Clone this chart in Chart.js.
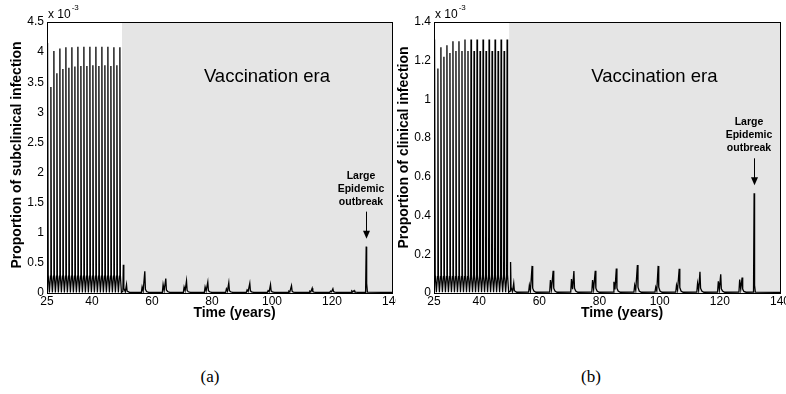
<!DOCTYPE html>
<html>
<head>
<meta charset="utf-8">
<script src="https://cdn.jsdelivr.net/npm/chart.js@4.4.1/dist/chart.umd.min.js"></script>
<style>
  html, body { margin: 0; padding: 0; background: #fff; }
  body { width: 786px; height: 394px; position: relative; overflow: hidden; }
  .panel { position: absolute; top: 0; }
  #panelA { left: 0; }
  #panelB { left: 396px; }
  .caption { position: absolute; top: 367px; line-height: 20px; font: 17px 'Liberation Serif', serif; color: #000; transform: translateX(-50%); }
</style>
</head>
<body>
<div class="panel" id="panelA"><canvas id="chartA" width="396" height="330"></canvas></div>
<div class="panel" id="panelB"><canvas id="chartB" width="390" height="330"></canvas></div>
<div class="caption" style="left:210px">(a)</div>
<div class="caption" style="left:591px">(b)</div>
<script>
// time in years; both series share this grid
const years = [
  25.0,
  25.1, 25.25, 25.4, 25.8,   26.15, 26.3, 26.45, 26.8,
  27.15, 27.3, 27.45, 27.8,   28.15, 28.3, 28.45, 28.8,
  29.15, 29.3, 29.45, 29.8,   30.15, 30.3, 30.45, 30.8,
  31.15, 31.3, 31.45, 31.8,   32.15, 32.3, 32.45, 32.8,
  33.15, 33.3, 33.45, 33.8,   34.15, 34.3, 34.45, 34.8,
  35.15, 35.3, 35.45, 35.8,   36.15, 36.3, 36.45, 36.8,
  37.15, 37.3, 37.45, 37.8,   38.15, 38.3, 38.45, 38.8,
  39.15, 39.3, 39.45, 39.8,   40.15, 40.3, 40.45, 40.8,
  41.15, 41.3, 41.45, 41.8,   42.15, 42.3, 42.45, 42.8,
  43.15, 43.3, 43.45, 43.8,   44.15, 44.3, 44.45, 44.8,
  45.15, 45.3, 45.45, 45.8,   46.15, 46.3, 46.45, 46.8,
  47.15, 47.3, 47.45, 47.8,   48.15, 48.3, 48.45, 48.8,
  49.15, 49.3, 49.45, 49.8,
  50.3, 50.45, 50.6, 51.1, 51.5, 51.7, 52.5,
  56.45, 56.7, 57.05, 57.6, 57.8, 58.2, 58.9,
  63.45, 63.7, 64.05, 64.6, 64.8, 65.2, 65.9,
  70.45, 70.7, 71.05, 71.5, 71.7, 72.1, 72.8,
  77.45, 77.7, 78.05, 78.6, 78.8, 79.2, 79.9,
  84.55, 84.8, 85.15, 85.6, 85.8, 86.2, 86.9,
  91.45, 91.7, 92.05, 92.6, 92.8, 93.2, 93.9,
  98.45, 98.7, 99.05, 99.5, 99.7, 100.1, 100.8,
  105.35, 105.6, 105.95, 106.5, 106.7, 107.1, 107.8,
  112.35, 112.6, 112.95, 113.4, 113.6, 114.0, 114.7,
  119.25, 119.5, 119.85, 120.3, 120.5, 120.9, 121.6,
  126.35, 126.6, 126.95, 127.4, 127.6, 128.0, 128.7,
  131.2, 131.4, 131.55, 131.8, 140
];

// proportion of subclinical infection (x 10^-3)
const subclinical = [
  0.2,
  0.28, 4.15, 0.3, 0.01,   0.28, 3.42, 0.3, 0.01,
  0.28, 4.02, 0.3, 0.01,   0.28, 3.65, 0.3, 0.01,
  0.28, 4.06, 0.3, 0.01,   0.28, 3.72, 0.3, 0.01,
  0.28, 4.08, 0.3, 0.01,   0.28, 3.74, 0.3, 0.01,
  0.28, 4.08, 0.3, 0.01,   0.28, 3.76, 0.3, 0.01,
  0.28, 4.09, 0.3, 0.01,   0.28, 3.77, 0.3, 0.01,
  0.28, 4.09, 0.3, 0.01,   0.28, 3.77, 0.3, 0.01,
  0.28, 4.09, 0.3, 0.01,   0.28, 3.78, 0.3, 0.01,
  0.28, 4.09, 0.3, 0.01,   0.28, 3.77, 0.3, 0.01,
  0.28, 4.09, 0.3, 0.01,   0.28, 3.78, 0.3, 0.01,
  0.28, 4.09, 0.3, 0.01,   0.28, 3.77, 0.3, 0.01,
  0.28, 4.08, 0.3, 0.01,   0.28, 3.78, 0.3, 0.01,
  0.28, 4.08, 0.3, 0.01,
  0.03, 0.47, 0.08, 0.02, 0.14, 0.03, 0.01,
  0.012, 0.10, 0.03, 0.36, 0.06, 0.025, 0.01,
  0.012, 0.14, 0.04, 0.24, 0.05, 0.025, 0.01,
  0.012, 0.10, 0.04, 0.20, 0.045, 0.02, 0.01,
  0.012, 0.10, 0.035, 0.18, 0.04, 0.02, 0.01,
  0.012, 0.07, 0.03, 0.17, 0.04, 0.02, 0.01,
  0.012, 0.05, 0.025, 0.16, 0.035, 0.02, 0.01,
  0.012, 0.04, 0.02, 0.14, 0.035, 0.02, 0.01,
  0.012, 0.03, 0.02, 0.12, 0.03, 0.015, 0.01,
  0.012, 0.03, 0.02, 0.08, 0.025, 0.015, 0.01,
  0.012, 0.03, 0.02, 0.07, 0.025, 0.015, 0.01,
  0.012, 0.035, 0.02, 0.04, 0.02, 0.015, 0.01,
  0.012, 0.77, 0.16, 0.015, 0.008
];

// proportion of clinical infection (x 10^-3)
const clinical = [
  0.06,
  0.085, 1.31, 0.095, 0.004,   0.085, 1.16, 0.095, 0.004,
  0.085, 1.27, 0.095, 0.004,   0.085, 1.22, 0.095, 0.004,
  0.085, 1.28, 0.095, 0.004,   0.085, 1.24, 0.095, 0.004,
  0.085, 1.30, 0.095, 0.004,   0.085, 1.25, 0.095, 0.004,
  0.085, 1.30, 0.095, 0.004,   0.085, 1.25, 0.095, 0.004,
  0.085, 1.31, 0.095, 0.004,   0.085, 1.25, 0.095, 0.004,
  0.085, 1.31, 0.095, 0.004,   0.085, 1.25, 0.095, 0.004,
  0.085, 1.31, 0.095, 0.004,   0.085, 1.25, 0.095, 0.004,
  0.085, 1.31, 0.095, 0.004,   0.085, 1.25, 0.095, 0.004,
  0.085, 1.31, 0.095, 0.004,   0.085, 1.25, 0.095, 0.004,
  0.085, 1.31, 0.095, 0.004,   0.085, 1.25, 0.095, 0.004,
  0.085, 1.31, 0.095, 0.004,   0.085, 1.25, 0.095, 0.004,
  0.085, 1.31, 0.095, 0.004,
  0.01, 0.16, 0.03, 0.008, 0.05, 0.012, 0.004,
  0.005, 0.04, 0.012, 0.14, 0.025, 0.01, 0.004,
  0.005, 0.067, 0.02, 0.115, 0.025, 0.01, 0.004,
  0.005, 0.072, 0.02, 0.113, 0.025, 0.01, 0.004,
  0.005, 0.067, 0.02, 0.115, 0.025, 0.01, 0.004,
  0.005, 0.058, 0.018, 0.126, 0.025, 0.01, 0.004,
  0.005, 0.04, 0.015, 0.145, 0.03, 0.01, 0.004,
  0.005, 0.03, 0.012, 0.14, 0.03, 0.01, 0.004,
  0.005, 0.04, 0.015, 0.125, 0.028, 0.01, 0.004,
  0.005, 0.05, 0.015, 0.11, 0.025, 0.01, 0.004,
  0.005, 0.06, 0.018, 0.097, 0.022, 0.01, 0.004,
  0.005, 0.07, 0.02, 0.08, 0.02, 0.008, 0.004,
  0.005, 0.515, 0.04, 0.005, 0.003
];

const xTicks = [25, 40, 60, 80, 100, 120, 140];
const vaccinationStart = 50;
const eraLabelYear = 77.3;
const outbreakYear = 131.4;
const outbreakText = ['Large', 'Epidemic', 'outbreak'];

const sans = '"Liberation Sans", Arial, Helvetica, sans-serif';

function series(values) {
    return years.map((t, i) => ({ x: t, y: values[i] }));
}

// shaded vaccination era, axes box, labels and the outbreak arrow
const panelDecor = {
    id: 'panelDecor',
    beforeDatasetsDraw(chart) {
        const { ctx, chartArea: a, scales: { x } } = chart;
        const x0 = x.getPixelForValue(vaccinationStart);
        ctx.save();
        ctx.fillStyle = '#e5e5e5';
        ctx.fillRect(x0, a.top, a.right - x0, a.bottom - a.top);
        ctx.restore();
    },
    afterDraw(chart, args, opts) {
        const { ctx, chartArea: a, scales: { x, y } } = chart;
        ctx.save();
        ctx.strokeStyle = '#000';
        ctx.fillStyle = '#000';
        ctx.lineWidth = 1;
        ctx.strokeRect(Math.round(a.left) + 0.5, Math.round(a.top) + 0.5,
            Math.round(a.right - a.left), Math.round(a.bottom - a.top));

        // era label
        ctx.font = '18.5px ' + sans;
        ctx.textAlign = 'left';
        ctx.textBaseline = 'middle';
        ctx.fillText('Vaccination era', x.getPixelForValue(eraLabelYear), a.top + 55);

        // arrow pointing at the outbreak peak
        const peak = opts.values[years.indexOf(outbreakYear)];
        const px = Math.round(x.getPixelForValue(outbreakYear)) + 0.5;
        const tip = y.getPixelForValue(peak) - 8;
        const tail = tip - 27;
        ctx.beginPath();
        ctx.moveTo(px, tail);
        ctx.lineTo(px, tip - 6);
        ctx.stroke();
        ctx.beginPath();
        ctx.moveTo(px - 3.5, tip - 8);
        ctx.lineTo(px + 3.5, tip - 8);
        ctx.lineTo(px, tip);
        ctx.closePath();
        ctx.fill();
        ctx.font = 'bold 10.5px ' + sans;
        ctx.textAlign = 'center';
        outbreakText.forEach((s, i) => {
            ctx.fillText(s, px - 5.5, tail - 10 - (outbreakText.length - 1 - i) * 13);
        });

        // axis titles
        ctx.font = 'bold 14px ' + sans;
        ctx.fillText('Time (years)', (a.left + a.right) / 2 + 15, a.bottom + 20);
        ctx.save();
        ctx.translate(a.left - 30, (a.top + a.bottom) / 2 + opts.yTitleShift);
        ctx.rotate(-Math.PI / 2);
        ctx.fillText(opts.yTitle, 0, 0);
        ctx.restore();

        // exponent
        ctx.font = '12px ' + sans;
        ctx.textAlign = 'left';
        ctx.textBaseline = 'alphabetic';
        ctx.fillText('x 10', a.left + 1, a.top - 4);
        const w = ctx.measureText('x 10').width;
        ctx.font = '8px ' + sans;
        ctx.fillText('-3', a.left + 2 + w, a.top - 12);
        ctx.restore();
    }
};

function makePanel(id, values, cfg) {
    return new Chart(document.getElementById(id), {
        type: 'line',
        data: {
            datasets: [{
                data: series(values),
                borderColor: '#000',
                borderWidth: 1.3,
                pointRadius: 0,
                tension: 0,
                fill: false
            }]
        },
        options: {
            responsive: false,
            animation: false,
            devicePixelRatio: 1,
            layout: { padding: { left: 0, top: 22, right: cfg.padRight, bottom: 0 } },
            plugins: {
                legend: { display: false },
                tooltip: { enabled: false },
                panelDecor: { values: values, yTitle: cfg.yTitle, yTitleShift: cfg.yTitleShift }
            },
            scales: {
                x: {
                    type: 'linear',
                    min: 25,
                    max: 140,
                    grid: { display: false, drawTicks: false },
                    border: { display: false },
                    ticks: {
                        color: '#000',
                        font: { family: sans, size: 12 },
                        padding: 1,
                        maxRotation: 0,
                        autoSkip: false,
                        callback: v => String(v)
                    },
                    afterBuildTicks: s => { s.ticks = xTicks.map(v => ({ value: v })); },
                    afterFit: s => { s.height = 37; s.paddingLeft = 0; s.paddingRight = 0; }
                },
                y: {
                    min: 0,
                    max: cfg.yMax,
                    grid: { display: false, drawTicks: false },
                    border: { display: false },
                    ticks: {
                        stepSize: cfg.yStep,
                        color: '#000',
                        font: { family: sans, size: 12 },
                        padding: 3,
                        callback: v => String(Math.round(v * 10) / 10)
                    },
                    afterFit: s => { s.width = cfg.axisWidth; }
                }
            }
        },
        plugins: [panelDecor]
    });
}

makePanel('chartA', subclinical, {
    yMax: 4.5, yStep: 0.5, axisWidth: 47, padRight: 4,
    yTitle: 'Proportion of subclinical infection', yTitleShift: -2.5
});
makePanel('chartB', clinical, {
    yMax: 1.4, yStep: 0.2, axisWidth: 38, padRight: 6,
    yTitle: 'Proportion of clinical infection', yTitleShift: -10
});
</script>
</body>
</html>
